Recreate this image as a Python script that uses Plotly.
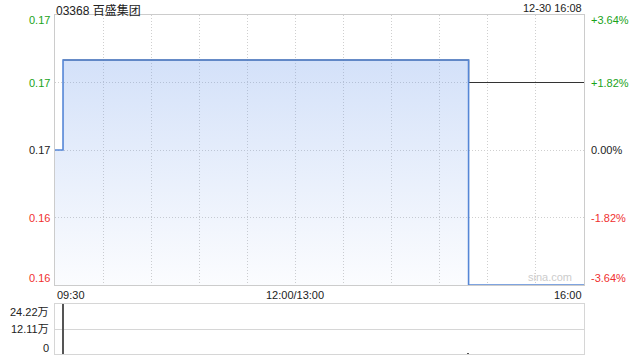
import plotly.graph_objects as go

# ---- data ----
title_text = "03368 百盛集团"
stamp_text = "12-30 16:08"
prev_close = 0.165
price_times = ["09:30", "09:35", "14:48", "16:00"]
price_vals = [0.165, 0.169, 0.159, 0.159]
avg_times = ["09:35", "14:48", "16:00"]
avg_vals = [0.169, 0.168, 0.168]
vol_times = ["09:35", "14:48"]
vol_vals = [242200, 3000]
price_ticks = [0.159, 0.162, 0.165, 0.168, 0.171]
vol_ticks = [0, 121100, 242200]
vol_ticktext = ["0", "12.11万", "24.22万"]
xlabel_times = ["09:30", "12:00", "16:00"]
xlabel_text = ["09:30", "12:00/13:00", "16:00"]


def to_min(t):
    h, m = map(int, t.split(":"))
    v = h * 60 + m
    return v - 570 if v <= 720 else v - 780 + 150


px = [to_min(t) for t in price_times]
ax = [to_min(t) for t in avg_times]
vx = [to_min(t) for t in vol_times]
x_end = to_min("16:00")

GREEN = "#1aa31a"
RED = "#f03030"
BLACK = "#222222"
FONT = "Liberation Sans, Arial, Noto Sans CJK SC, sans-serif"


def col(p):
    if round(p, 4) > prev_close:
        return GREEN
    if round(p, 4) < prev_close:
        return RED
    return BLACK


grid = "#cfcfcf"
border = "#cccccc"
vgrid = "#d6d6d6"
gdash = "1px,2px"

fig = go.Figure()
ymin, ymax = price_ticks[0], price_ticks[-1]

# baseline for fill
fig.add_trace(go.Scatter(x=[px[0], px[-1]], y=[ymin, ymin], mode="lines",
                         line=dict(width=0), hoverinfo="skip", showlegend=False,
                         xaxis="x", yaxis="y"))
fig.add_trace(go.Scatter(x=px, y=price_vals, mode="lines", line_shape="hv",
                         line=dict(width=0), fill="tonexty",
                         fillgradient=dict(type="vertical", start=ymin, stop=max(price_vals),
                                           colorscale=[[0, "rgba(120,160,235,0.03)"],
                                                       [1, "rgba(110,155,235,0.30)"]]),
                         hoverinfo="skip", showlegend=False, xaxis="x", yaxis="y"))
# average line
fig.add_trace(go.Scatter(x=ax, y=avg_vals, mode="lines", line_shape="hv",
                         line=dict(color="#333333", width=1.2), showlegend=False,
                         xaxis="x", yaxis="y"))
# price line
fig.add_trace(go.Scatter(x=px, y=price_vals, mode="lines", line_shape="hv",
                         line=dict(color="#5586d6", width=1.6), showlegend=False,
                         xaxis="x", yaxis="y"))
# volume bars
fig.add_trace(go.Bar(x=vx, y=vol_vals, width=0.9, marker=dict(color="#555555", line_width=0),
                     showlegend=False, xaxis="x2", yaxis="y2"))

xticks = list(range(0, 331, 30))
pct = [(p / prev_close - 1) * 100 for p in price_ticks]

H = 360
t, b = 15, 6
ph = H - t - b
main_dom = [(354 - 285) / ph, 1]
vol_dom = [0, (354 - 304) / ph]
vol_mid = vol_dom[0] + (vol_dom[1] - vol_dom[0]) * vol_ticks[1] / vol_ticks[-1]

fig.update_layout(
    width=640, height=360,
    margin=dict(l=55, r=56, t=t, b=b),
    paper_bgcolor="white", plot_bgcolor="white",
    font=dict(family=FONT, size=11, color=BLACK),
    bargap=0,
    xaxis=dict(domain=[0, 1], range=[0, x_end], tickvals=xticks, ticktext=[""] * len(xticks),
               showgrid=True, gridcolor=grid, griddash=gdash, gridwidth=1,
               showline=True, linecolor=border, mirror=True, ticks="", zeroline=False,
               anchor="y"),
    yaxis=dict(domain=main_dom, range=[ymin, ymax], tickvals=price_ticks,
               showticklabels=False,
               showgrid=True, gridcolor=grid, griddash=gdash, showline=True, linecolor=border,
               mirror=True, ticks="", zeroline=False),
    xaxis2=dict(domain=[0, 1], range=[0, x_end], showgrid=False, showticklabels=False,
                showline=True, linecolor=vgrid, mirror=True, ticks="", zeroline=False,
                anchor="y2"),
    yaxis2=dict(domain=vol_dom, range=[0, vol_ticks[-1]], tickvals=[vol_ticks[1]],
                showticklabels=False, showgrid=True, gridcolor=vgrid, gridwidth=1,
                showline=True, linecolor=vgrid, mirror=True, ticks="", zeroline=False),
    # helper axis whose bottom line marks the middle volume gridline
    xaxis3=dict(domain=[0, 1], range=[0, x_end], anchor="y3", side="bottom",
                showline=True, linecolor=vgrid, showgrid=False, showticklabels=False,
                ticks="", zeroline=False),
    yaxis3=dict(domain=[vol_mid, vol_dom[1]], range=[0, 1], anchor="x3", visible=False),
)

anns = [
    dict(text=title_text, x=0, y=1, xref="paper", yref="paper", xshift=-1, yshift=14,
         xanchor="left", yanchor="top", showarrow=False, font=dict(size=12, color="#222")),
    dict(text=stamp_text, x=1, y=1, xref="paper", yref="paper", yshift=15,
         xanchor="right", yanchor="top", showarrow=False, font=dict(size=11, color="#222")),
    dict(text="sina.com", x=1, y=ymin, xref="paper", yref="y", xshift=-10, yshift=0,
         xanchor="right", yanchor="bottom", showarrow=False, font=dict(size=11, color="#cccccc")),
]
n = len(price_ticks)
for i, (p, c) in enumerate(zip(price_ticks, pct)):
    ys = -5 if i == n - 1 else (7 if i == 0 else 0)
    s = f"{c:+.2f}%" if abs(c) > 1e-9 else "0.00%"
    anns.append(dict(text=f"{p:.2f}", x=0, y=p, xref="paper", yref="y", xshift=-3,
                     yshift=ys, xanchor="right", yanchor="middle", showarrow=False,
                     font=dict(size=11, color=col(p))))
    anns.append(dict(text=s, x=1, y=p, xref="paper", yref="y", xshift=5,
                     yshift=ys, xanchor="left", yanchor="middle", showarrow=False,
                     font=dict(size=11, color=col(p))))
m = len(vol_ticks)
for i, (v, lab) in enumerate(zip(vol_ticks, vol_ticktext)):
    ys = -8 if i == m - 1 else (6 if i == 0 else 0)
    anns.append(dict(text=lab, x=0, y=v, xref="paper", yref="y2", xshift=-4,
                     yshift=ys, xanchor="right", yanchor="middle", showarrow=False,
                     font=dict(size=11, color="#222")))
anchors = ["left", "center", "right"]
for tt, lab, anc in zip(xlabel_times, xlabel_text, anchors):
    anns.append(dict(text=lab, x=to_min(tt), y=ymin, xref="x", yref="y", yshift=-2,
                     xanchor=anc, yanchor="top", showarrow=False,
                     font=dict(size=11, color="#222")))
fig.update_layout(annotations=anns)

fig.write_html("out.html")
